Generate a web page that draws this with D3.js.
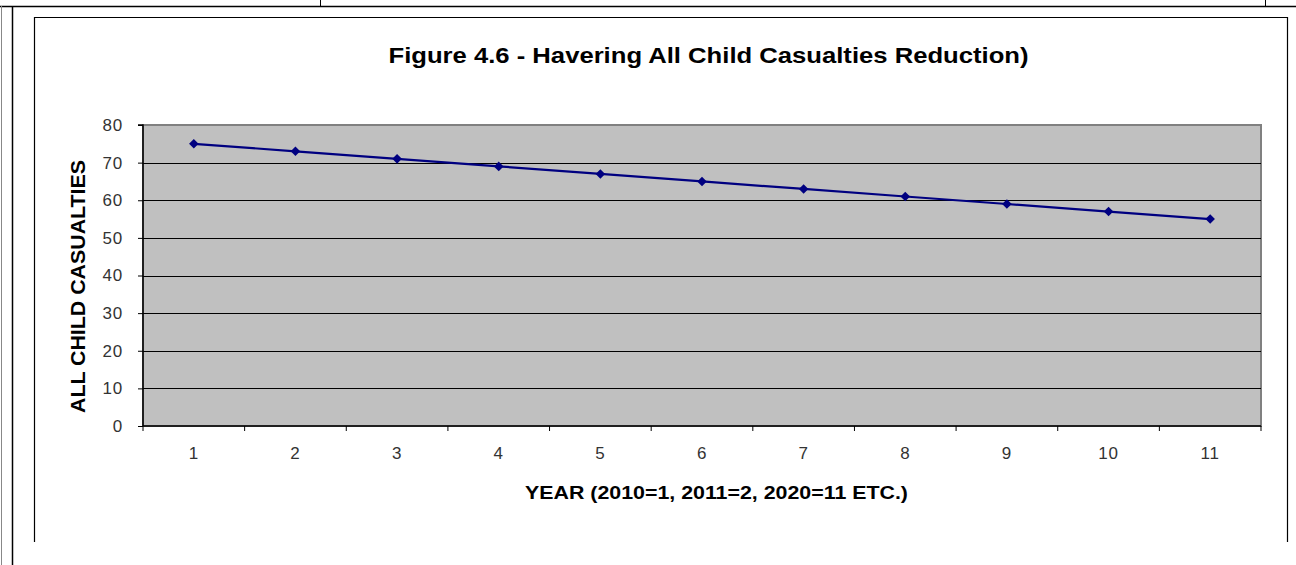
<!DOCTYPE html>
<html><head><meta charset="utf-8">
<script src="https://cdn.jsdelivr.net/npm/d3@7"></script>
<style>body{margin:0;background:#fff}svg{display:block}</style>
</head><body>
<svg id="c" width="1296" height="565"></svg>
<script>
const categories = [1,2,3,4,5,6,7,8,9,10,11];
const casualties = [75,73,71,69,67,65,63,61,59,57,55];
const yTicks = [0,10,20,30,40,50,60,70,80];
const titleText = "Figure 4.6 - Havering All Child Casualties Reduction)";
const xLabel = "YEAR (2010=1, 2011=2, 2020=11 ETC.)";
const yLabel = "ALL CHILD CASUALTIES";

const svg = d3.select("#c");
const font = "Arial, 'Liberation Sans', sans-serif";

// document table lines
const doc = svg.append("g").attr("fill","none");
doc.append("line").attr("x1",0).attr("x2",1296).attr("y1",6.5).attr("y2",6.5).attr("stroke","#000").attr("stroke-width",1.5);
doc.append("line").attr("x1",320.5).attr("x2",320.5).attr("y1",0).attr("y2",6).attr("stroke","#000");
doc.append("line").attr("x1",1265.5).attr("x2",1265.5).attr("y1",0).attr("y2",6).attr("stroke","#000");
doc.append("line").attr("x1",1.5).attr("x2",1.5).attr("y1",6).attr("y2",565).attr("stroke","#888");
doc.append("line").attr("x1",12.5).attr("x2",12.5).attr("y1",6).attr("y2",565).attr("stroke","#000").attr("stroke-width",1.5);

// chart frame (bottom cut off)
doc.append("path").attr("d","M34.5,542 V17.5 H1287.5 V542").attr("stroke","#000").attr("stroke-width",1.2);

const L=143, R=1261, T=125, B=426;
const x = d3.scaleBand().domain(categories).range([L,R]).padding(0);
const y = d3.scaleLinear().domain([0,80]).range([B,T]);

svg.append("rect").attr("x",L).attr("y",T).attr("width",R-L).attr("height",B-T)
  .attr("fill","#C0C0C0").attr("stroke","#808080").attr("stroke-width",2);

// gridlines
svg.append("g").selectAll("line").data(yTicks.filter(d=>d>0 && d<80)).join("line")
  .attr("x1",L).attr("x2",R).attr("y1",d=>Math.round(y(d))+0.5).attr("y2",d=>Math.round(y(d))+0.5)
  .attr("stroke","#000").attr("stroke-width",1);

// y axis
const ya = svg.append("g").attr("transform",`translate(${L},0)`)
  .call(d3.axisLeft(y).tickValues(yTicks).tickSize(5).tickPadding(15));
ya.select(".domain").attr("stroke","#000").attr("stroke-width",1.5).attr("d",`M-5,${T}H0V${B}`);
ya.selectAll(".tick line").attr("stroke","#000");
ya.selectAll("text").attr("font-family",font).attr("font-size",17).attr("fill","#333")
  .attr("letter-spacing",0.8);

// x axis
const xa = svg.append("g").attr("transform",`translate(0,${B})`)
  .call(d3.axisBottom(x).tickSize(0).tickPadding(21));
xa.select(".domain").attr("stroke","#000").attr("stroke-width",1.5).attr("d",`M${L},0H${R}`);
xa.selectAll("text").attr("font-family",font).attr("font-size",17).attr("fill","#333")
  .attr("letter-spacing",0.8);
const bounds = categories.map(c=>x(c)).concat([R]);
xa.append("g").selectAll("line").data(bounds).join("line")
  .attr("x1",d=>d).attr("x2",d=>d).attr("y1",0).attr("y2",5).attr("stroke","#000");

// line
const line = d3.line().x((d,i)=>x(categories[i])+x.bandwidth()/2).y(d=>y(d));
svg.append("path").datum(casualties).attr("d",line).attr("fill","none")
  .attr("stroke","#000080").attr("stroke-width",2.2);
svg.append("g").selectAll("path").data(casualties).join("path")
  .attr("d",d3.symbol(d3.symbolDiamond2 || d3.symbolDiamond, 58))
  .attr("transform",(d,i)=>`translate(${x(categories[i])+x.bandwidth()/2},${y(d)})`)
  .attr("fill","#000080");

// texts
svg.append("text").attr("x",708.5).attr("y",62.5).attr("text-anchor","middle")
  .attr("font-family",font).attr("font-weight","bold").attr("font-size",21.5)
  .attr("textLength",640).attr("lengthAdjust","spacingAndGlyphs").text(titleText);
svg.append("text").attr("x",716.5).attr("y",498.5).attr("text-anchor","middle")
  .attr("font-family",font).attr("font-weight","bold").attr("font-size",18.5)
  .attr("textLength",383).attr("lengthAdjust","spacingAndGlyphs").text(xLabel);
svg.append("text").attr("transform","translate(85,286.5) rotate(-90)").attr("text-anchor","middle")
  .attr("font-family",font).attr("font-weight","bold").attr("font-size",20)
  .attr("textLength",253).attr("lengthAdjust","spacingAndGlyphs").text(yLabel);
</script>
</body></html>
